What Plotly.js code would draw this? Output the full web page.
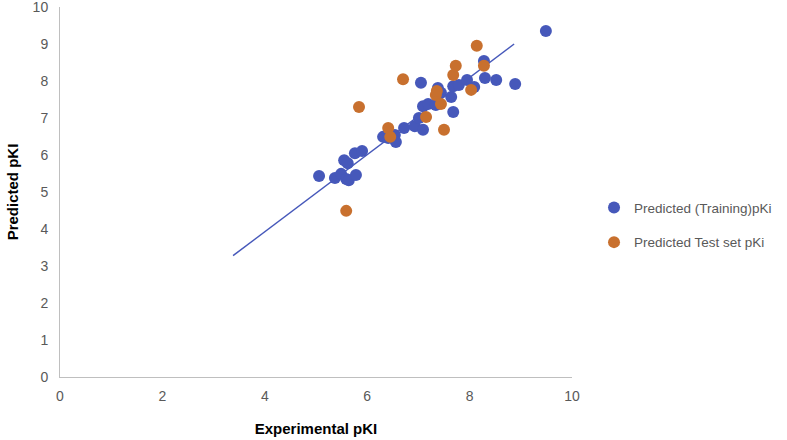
<!DOCTYPE html>
<html>
<head>
<meta charset="utf-8">
<script src="https://cdn.plot.ly/plotly-3.0.1.min.js"></script>
<style>html,body{margin:0;padding:0;background:#fff;}#chart{width:787px;height:440px;}</style>
</head>
<body>
<div id="chart"></div>
<script>
const trainX = [5.06,5.37,5.49,5.55,5.62,5.59,5.64,5.78,5.76,5.90,6.31,6.41,6.54,6.56,6.72,6.93,7.01,7.09,7.09,7.05,7.19,7.34,7.38,7.44,7.68,7.64,7.68,7.79,7.95,8.09,8.28,8.30,8.52,8.89,9.49];
const trainY = [5.43,5.38,5.49,5.86,5.78,5.35,5.32,5.46,6.05,6.11,6.49,6.46,6.54,6.35,6.73,6.78,7.00,7.32,6.68,7.95,7.38,7.35,7.81,7.68,7.16,7.57,7.86,7.89,8.03,7.84,8.54,8.08,8.03,7.92,9.35];
const testX = [5.59,5.84,6.41,6.45,6.70,7.15,7.34,7.36,7.44,7.50,7.68,7.73,8.03,8.14,8.28];
const testY = [4.49,7.30,6.73,6.49,8.05,7.03,7.62,7.73,7.38,6.68,8.16,8.41,7.76,8.95,8.41];
const trendX = [3.38, 8.87];
const trendY = [3.28, 9.00];
const xTicks = [0,2,4,6,8,10];
const yTicks = [0,1,2,3,4,5,6,7,8,9,10];

const blue = '#4658BA';
const orange = '#C8702E';

const data = [
  {x: trendX, y: trendY, mode: 'lines', type: 'scatter', showlegend: false,
   line: {color: blue, width: 1.5}, hoverinfo: 'skip'},
  {x: trainX, y: trainY, mode: 'markers', type: 'scatter', name: 'Predicted (Training)pKi',
   legendgroup: 'a', marker: {color: blue, size: 12}},
  {x: testX, y: testY, mode: 'markers', type: 'scatter', name: 'Predicted Test set pKi',
   legendgroup: 'b', marker: {color: orange, size: 12}}
];

const tickFont = {family: 'Liberation Sans, Arial, sans-serif', size: 14, color: '#595959'};
const titleFont = {family: 'Liberation Sans, Arial, sans-serif', size: 15, color: '#000', weight: 'bold'};

const layout = {
  width: 787, height: 440,
  margin: {l: 60, r: 215, t: 7, b: 63, autoexpand: false},
  paper_bgcolor: '#fff', plot_bgcolor: '#fff',
  showlegend: true,
  legend: {x: 1.043, y: 0.41, xanchor: 'left', yanchor: 'middle', tracegroupgap: 14,
           font: {family: 'Liberation Sans, Arial, sans-serif', size: 13.5, color: '#595959'},
           itemwidth: 30, bgcolor: 'rgba(0,0,0,0)'},
  xaxis: {range: [0, 10], tickvals: xTicks, ticktext: xTicks.map(String), showgrid: false, zeroline: false,
          showline: true, linecolor: '#BFBFBF', linewidth: 1, ticks: '', tickfont: tickFont,
          ticklabelstandoff: 6, ticklabeloverflow: 'allow', automargin: false,
          title: {text: 'Experimental pKI', font: titleFont, standoff: 20}},
  yaxis: {range: [0, 10], tickvals: yTicks, ticktext: yTicks.map(String), showgrid: false, zeroline: false,
          showline: true, linecolor: '#BFBFBF', linewidth: 1, ticks: '', tickfont: tickFont,
          ticklabelstandoff: 8, ticklabeloverflow: 'allow', automargin: false,
          title: {text: 'Predicted pKI', font: titleFont, standoff: 10}}
};

Plotly.newPlot('chart', data, layout, {displayModeBar: false, staticPlot: true});
</script>
</body>
</html>
